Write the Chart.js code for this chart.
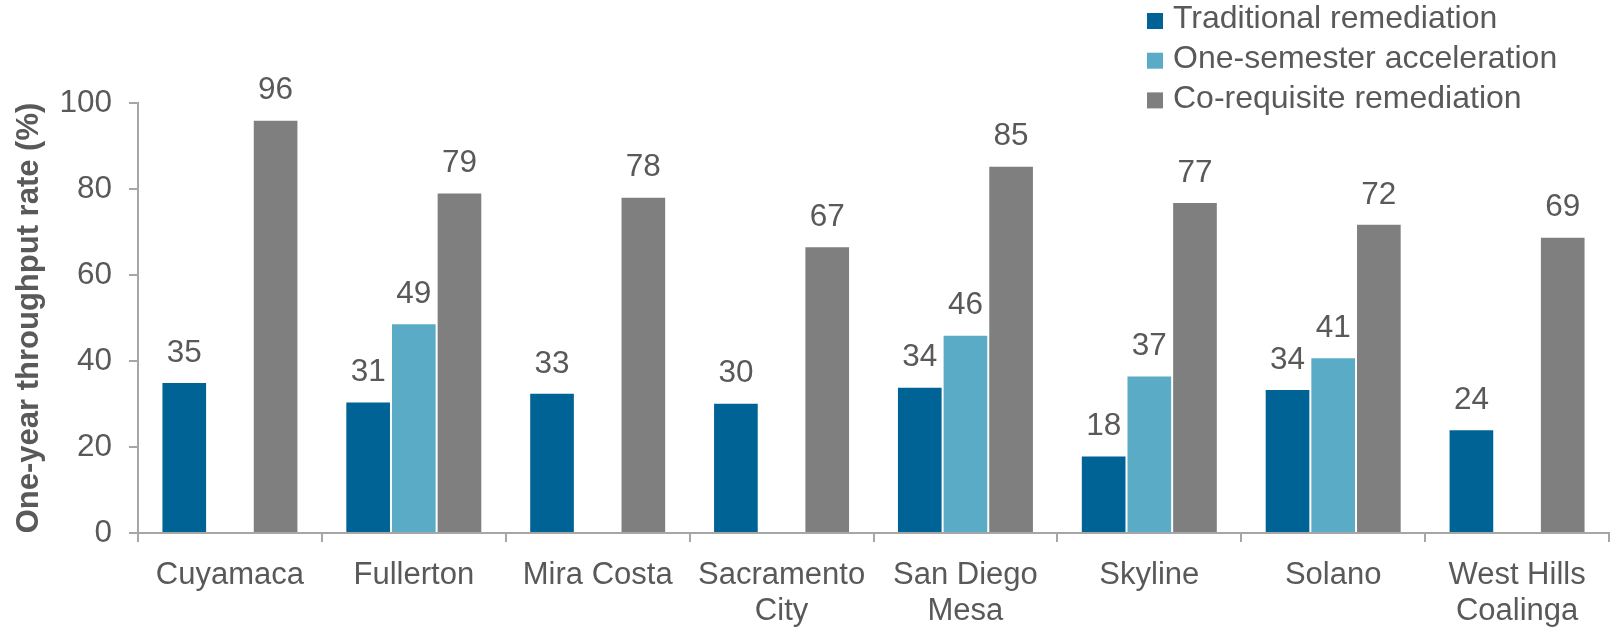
<!DOCTYPE html>
<html>
<head>
<meta charset="utf-8">
<script src="https://cdn.jsdelivr.net/npm/chart.js@4.4.1/dist/chart.umd.min.js"></script>
<style>
  html, body { margin: 0; padding: 0; background: #ffffff; }
  #wrap { width: 1610px; height: 627px; position: relative; }
</style>
</head>
<body>
<div id="wrap"><canvas id="throughput-chart" width="1610" height="627"></canvas></div>
<script>
const colleges = [
  'Cuyamaca',
  'Fullerton',
  'Mira Costa',
  ['Sacramento', 'City'],
  ['San Diego', 'Mesa'],
  'Skyline',
  'Solano',
  ['West Hills', 'Coalinga']
];
const traditionalRemediation = [35.1, 30.6, 32.6, 30.3, 34.0, 18.0, 33.5, 24.1];
const oneSemesterAcceleration = [null, 48.8, null, null, 46.1, 36.6, 40.9, null];
const corequisiteRemediation = [96.1, 79.2, 78.2, 66.7, 85.4, 77.0, 71.9, 68.9];
const seriesNames = ['Traditional remediation', 'One-semester acceleration', 'Co-requisite remediation'];
const yTicks = [0, 20, 40, 60, 80, 100];

const textColor = '#595959';
const axisColor = '#a6a6a6';
const fontFamily = '"Liberation Sans", Arial, sans-serif';

function colorByIndex(index) {
  const palette = ['#006395', '#5aacc6', '#7f7f7f'];
  return palette[index % palette.length];
}

const barValuePlugin = {
  id: 'barValuePlugin',
  afterDatasetsDraw(chart) {
    const {ctx} = chart;
    ctx.save();
    ctx.fillStyle = textColor;
    ctx.font = '31.5px ' + fontFamily;
    ctx.textAlign = 'center';
    ctx.textBaseline = 'middle';
    chart.data.datasets.forEach((ds, di) => {
      const meta = chart.getDatasetMeta(di);
      meta.data.forEach((bar, index) => {
        const value = ds.data[index];
        if (value === null || value === undefined) {
          return;
        }
        ctx.fillText(`${Math.round(value)}`, bar.x, bar.y - 29);
      });
    });
    ctx.restore();
  }
};

// legend in the top right corner, stacked vertically over the plot
const sideLegendPlugin = {
  id: 'sideLegendPlugin',
  afterDraw(chart) {
    const {ctx} = chart;
    ctx.save();
    ctx.font = '32px ' + fontFamily;
    ctx.textAlign = 'left';
    ctx.textBaseline = 'middle';
    chart.data.datasets.forEach((ds, i) => {
      const y = 19.5 + i * 39.7;
      ctx.fillStyle = ds.backgroundColor;
      ctx.fillRect(1147, y - 6.5, 16, 16);
      ctx.fillStyle = textColor;
      ctx.fillText(ds.label, 1173, y);
    });
    ctx.restore();
  }
};

const seriesData = [traditionalRemediation, oneSemesterAcceleration, corequisiteRemediation];
const datasets = seriesData.map((data, index) => ({
  label: seriesNames[index],
  data: data,
  backgroundColor: colorByIndex(index),
  borderColor: 'rgba(255, 255, 255, 0.25)',
  borderWidth: 1,
  categoryPercentage: 0.745,
  barPercentage: 1
}));

new Chart(document.getElementById('throughput-chart').getContext('2d'), {
  type: 'bar',
  data: {
    labels: colleges,
    datasets: datasets
  },
  options: {
    responsive: false,
    animation: false,
    layout: {
      padding: {top: 103, right: 1, bottom: 0, left: 0}
    },
    scales: {
      x: {
        grid: {
          display: true,
          drawOnChartArea: false,
          drawTicks: true,
          tickLength: 9,
          color: axisColor,
          lineWidth: 2
        },
        border: {
          display: true,
          color: axisColor,
          width: 2
        },
        ticks: {
          color: textColor,
          padding: 15,
          maxRotation: 0,
          autoSkip: false,
          font: {family: fontFamily, size: 31, lineHeight: 1.18}
        },
        afterFit(scale) {
          scale.height = 94;
        }
      },
      y: {
        min: 0,
        max: 100,
        afterBuildTicks(scale) {
          scale.ticks = yTicks.map((v) => ({value: v}));
        },
        grid: {
          display: true,
          drawOnChartArea: false,
          drawTicks: true,
          tickLength: 9,
          color: axisColor,
          lineWidth: 2
        },
        border: {
          display: true,
          color: axisColor,
          width: 2
        },
        ticks: {
          color: textColor,
          padding: 17,
          font: {family: fontFamily, size: 31.5}
        },
        title: {
          display: true,
          text: 'One-year throughput rate (%)',
          color: textColor,
          padding: {top: 11, bottom: 0},
          font: {family: fontFamily, size: 31, weight: 'bold', lineHeight: 1.2}
        },
        afterFit(scale) {
          scale.width = 138;
        }
      }
    },
    plugins: {
      legend: {display: false},
      tooltip: {enabled: false}
    }
  },
  plugins: [barValuePlugin, sideLegendPlugin]
});
</script>
</body>
</html>
